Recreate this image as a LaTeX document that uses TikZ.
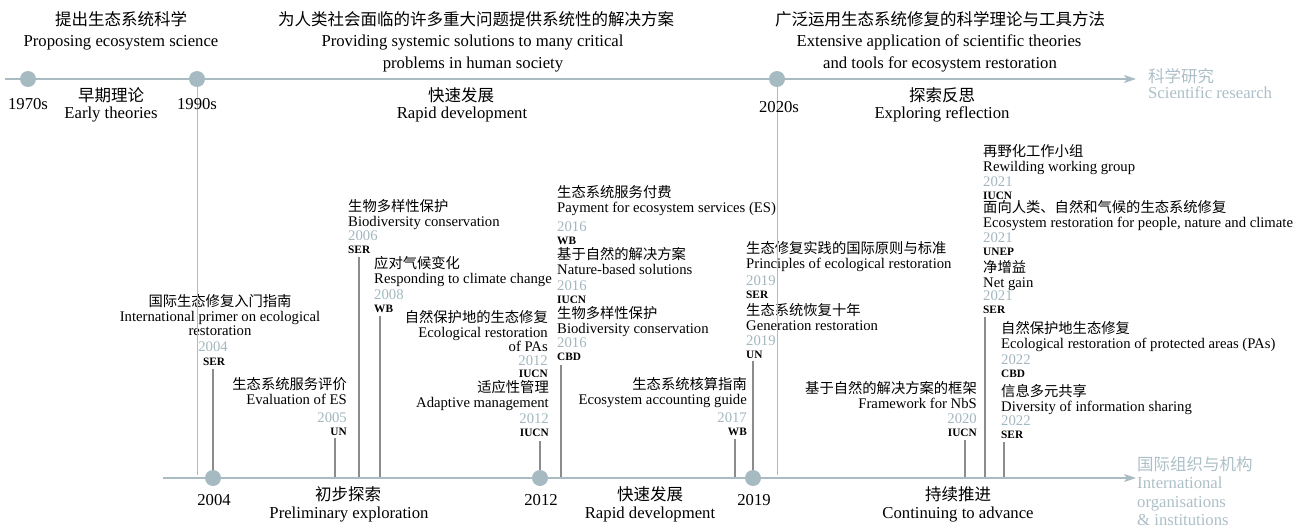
\documentclass[tikz,border=0pt]{standalone}
\usepackage{fontspec}
\setmainfont{Liberation Serif}
\newfontfamily\cjk{Noto Sans CJK SC}
\usetikzlibrary{arrows.meta}

\definecolor{axisc}{HTML}{A9BCC3}
\definecolor{dotc}{HTML}{A6BAC1}
\definecolor{yearc}{HTML}{A2B7BF}
\definecolor{keyc}{HTML}{ADBFC6}
\definecolor{stemc}{HTML}{8C8C8C}
\definecolor{guidec}{HTML}{B8B8B8}

\tikzset{
  bigen/.style={inner sep=0pt, font=\fontsize{16.7}{20}\selectfont},
  bigcn/.style={inner sep=0pt, font=\cjk\fontsize{16.5}{20}\selectfont},
  keyen/.style={bigen, text=keyc},
  keycn/.style={bigcn, text=keyc},
  en/.style={inner sep=0pt, font=\fontsize{14.7}{15}\selectfont},
  cn/.style={inner sep=0pt, font=\cjk\fontsize{14.3}{15}\selectfont},
  yr/.style={inner sep=0pt, text=yearc, font=\fontsize{14.7}{15}\selectfont},
  org/.style={inner sep=0pt, font=\bfseries\fontsize{11.3}{13}\selectfont},
  dot/.style={circle, fill=dotc, minimum size=16pt, inner sep=0pt},
  axis/.style={draw=axisc, line width=1.5pt, -{Stealth[length=12pt,width=8pt,inset=3pt]}},
  stem/.style={draw=stemc, line width=1.3pt},
  guide/.style={draw=guidec, line width=0.5pt}
}

% one event: name, side (west/east), x, Chinese baseline, Chinese, English, year, organisation, year baseline
\newcommand\evt[9]{%
  \node[cn,  anchor=base #2] (#1-cn)  at (#3,#4)    {#5};
  \node[en,  anchor=base #2] (#1-en)  at (#3,#4+15) {#6};
  \node[yr,  anchor=base #2] (#1-yr)  at (#3,#9)    {#7};
  \node[org, anchor=base #2] (#1-org) at (#3,#9+13) {#8};
}

\begin{document}
\begin{tikzpicture}[x=1pt,y=-1pt]
\useasboundingbox (0,0) rectangle (1293,527);

% ---------- axes ----------
\coordinate (topL) at (5,79);
\coordinate (topR) at (1136,79);
\coordinate (botL) at (163,478);
\coordinate (botR) at (1136,478);
\coordinate (guideEnd) at (0,475);

% ---------- event texts ----------
% 2004 primer (centred block)
\node[cn, anchor=base] (A-cn) at (220,306) {国际生态修复入门指南};
\node[en, anchor=base] (A-en) at (220,321) {International primer on ecological};
\node[en, anchor=base] (A-en2) at (220,335) {restoration};
\node[yr, anchor=base] (A-yr) at (213,351) {2004};
\node[org, anchor=base] (A-org) at (214,365) {SER};

\evt{B}{east}{347}{389}{生态系统服务评价}{Evaluation of ES}{2005}{UN}{422}
\evt{C}{west}{348}{211}{生物多样性保护}{Biodiversity conservation}{2006}{SER}{240}
\evt{D}{west}{374}{268}{应对气候变化}{Responding to climate change}{2008}{WB}{299}

% protected areas, 2012 (two English lines)
\node[cn, anchor=base east] (E-cn) at (548,322) {自然保护地的生态修复};
\node[en, anchor=base east] (E-en) at (548,337) {Ecological restoration};
\node[en, anchor=base east] (E-en2) at (548,351) {of PAs};
\node[yr, anchor=base east] (E-yr) at (548,365) {2012};
\node[org, anchor=base east] (E-org) at (548,377) {IUCN};

\evt{F}{east}{549}{392}{适应性管理}{Adaptive management}{2012}{IUCN}{423}
\evt{G}{west}{557}{197}{生态系统服务付费}{Payment for ecosystem services (ES)}{2016}{WB}{231}
\evt{H}{west}{557}{259}{基于自然的解决方案}{Nature-based solutions}{2016}{IUCN}{290}
\evt{I}{west}{557}{318}{生物多样性保护}{Biodiversity conservation}{2016}{CBD}{347}
\evt{J}{east}{747}{389}{生态系统核算指南}{Ecosystem accounting guide}{2017}{WB}{422}
\evt{K}{west}{746}{253}{生态修复实践的国际原则与标准}{Principles of ecological restoration}{2019}{SER}{285}
\evt{L}{west}{746}{315}{生态系统恢复十年}{Generation restoration}{2019}{UN}{345}
\evt{M}{east}{977}{393}{基于自然的解决方案的框架}{Framework for NbS}{2020}{IUCN}{423}
\evt{N}{west}{983}{156}{再野化工作小组}{Rewilding working group}{2021}{IUCN}{186}
\evt{O}{west}{983}{212}{面向人类、自然和气候的生态系统修复}{Ecosystem restoration for people, nature and climate}{2021}{UNEP}{242}
\evt{P}{west}{983}{272}{净增益}{Net gain}{2021}{SER}{300}
\evt{Q}{west}{1001}{333}{自然保护地生态修复}{Ecological restoration of protected areas (PAs)}{2022}{CBD}{364}
\evt{R}{west}{1001}{396}{信息多元共享}{Diversity of information sharing}{2022}{SER}{425}

% ---------- stem tops ----------
\coordinate (sA) at (213,369);
\coordinate (sB) at (335,438);
\coordinate (sC) at (359,257);
\coordinate (sD) at (380,316);
\coordinate (sF) at (540,441);
\coordinate (sI) at (561,365);
\coordinate (sJ) at (735,439);
\coordinate (sL) at (753,361);
\coordinate (sM) at (965,440);
\coordinate (sP) at (985,317);
\coordinate (sR) at (1004,442);

% ---------- period dots on the top axis ----------
\path (28,79) coordinate (p1970) (197,79) coordinate (p1990) (777,79) coordinate (p2020);
% ---------- milestone dots on the bottom axis ----------
\path (213,478) coordinate (p2004) (540,478) coordinate (p2012) (753,478) coordinate (p2019);

% guide lines from the 1990s and 2020s marks
\draw[guide] (p1990) -- (p1990 |- guideEnd);
\draw[guide] (p2020) -- (p2020 |- guideEnd);

% stems
\draw[stem] (sA) -- (p2004);
\draw[stem] (sB) -- (sB |- botL);
\draw[stem] (sC) -- (sC |- botL);
\draw[stem] (sD) -- (sD |- botL);
\draw[stem] (sF) -- (p2012);
\draw[stem] (sI) -- (sI |- botL);
\draw[stem] (sJ) -- (sJ |- botL);
\draw[stem] (sL) -- (p2019);
\draw[stem] (sM) -- (sM |- botL);
\draw[stem] (sP) -- (sP |- botL);
\draw[stem] (sR) -- (sR |- botL);

\draw[axis] (topL) -- (topR);
\draw[axis] (botL) -- (botR);

\node[dot] (d1970) at (p1970) {};
\node[dot] (d1990) at (p1990) {};
\node[dot] (d2020) at (p2020) {};
\node[dot] (d2004) at (p2004) {};
\node[dot] (d2012) at (p2012) {};
\node[dot] (d2019) at (p2019) {};

% ---------- top headings ----------
\node[bigcn, anchor=base] (h1cn) at (121,25.5) {提出生态系统科学};
\node[bigen, anchor=base] (h1en) at (121,46.5) {Proposing ecosystem science};
\node[bigcn, anchor=base] (h2cn) at (476,25.5) {为人类社会面临的许多重大问题提供系统性的解决方案};
\node[bigen, anchor=base] (h2en) at (472.5,46.5) {Providing systemic solutions to many critical};
\node[bigen, anchor=base] (h2en2) at (473,68) {problems in human society};
\node[bigcn, anchor=base] (h3cn) at (940,25.5) {广泛运用生态系统修复的科学理论与工具方法};
\node[bigen, anchor=base] (h3en) at (939,46.5) {Extensive application of scientific theories};
\node[bigen, anchor=base] (h3en2) at (940,68) {and tools for ecosystem restoration};

% period labels
\node[bigen, anchor=base] (t1970) at (28,110) {1970s};
\node[bigcn, anchor=base] (e1cn) at (111,101) {早期理论};
\node[bigen, anchor=base] (e1en) at (111,118) {Early theories};
\node[bigen, anchor=base] (t1990) at (197,110) {1990s};
\node[bigcn, anchor=base] (e2cn) at (461,101) {快速发展};
\node[bigen, anchor=base] (e2en) at (462,118) {Rapid development};
\node[bigen, anchor=base] (t2020) at (779,112) {2020s};
\node[bigcn, anchor=base] (e3cn) at (942,101) {探索反思};
\node[bigen, anchor=base] (e3en) at (942,118) {Exploring reflection};

% axis keys
\node[keycn, anchor=base west] (k1cn) at (1148,82) {科学研究};
\node[keyen, anchor=base west] (k1en) at (1148,99) {Scientific research};
\node[keycn, anchor=base west] (k2cn) at (1137,470) {国际组织与机构};
\node[keyen, anchor=base west] (k2en) at (1137,488) {International};
\node[keyen, anchor=base west] (k2en2) at (1137,507) {organisations};
\node[keyen, anchor=base west] (k2en3) at (1137,525) {\& institutions};

% bottom labels
\node[bigen, anchor=base] (t2004) at (214,505) {2004};
\node[bigcn, anchor=base] (b1cn) at (348,500) {初步探索};
\node[bigen, anchor=base] (b1en) at (349,518) {Preliminary exploration};
\node[bigen, anchor=base] (t2012) at (541,505) {2012};
\node[bigcn, anchor=base] (b2cn) at (650,500) {快速发展};
\node[bigen, anchor=base] (b2en) at (650,518) {Rapid development};
\node[bigen, anchor=base] (t2019) at (754,505) {2019};
\node[bigcn, anchor=base] (b3cn) at (958,500) {持续推进};
\node[bigen, anchor=base] (b3en) at (958,518) {Continuing to advance};
\end{tikzpicture}
\end{document}
